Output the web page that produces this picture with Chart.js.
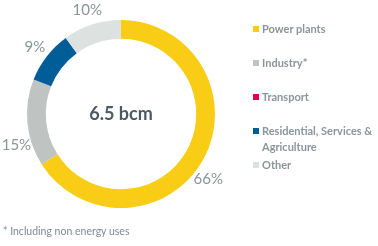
<!DOCTYPE html>
<html>
<head>
<meta charset="utf-8">
<script src="https://cdn.jsdelivr.net/npm/chart.js@4.4.0/dist/chart.umd.min.js"></script>
<style>
  html, body { margin: 0; padding: 0; background: #fff; }
  #wrap { position: relative; width: 378px; height: 246px; font-family: Lato, "Open Sans", sans-serif; }
  #gasChart { position: absolute; left: 0; top: 0; }
  #legend { position: absolute; left: 253px; top: 21px; color: #8a9599; font-size: 11px; font-weight: bold; }
  #legend .item { position: relative; padding-left: 9px; line-height: 16px; margin-bottom: 18px; }
  #legend .item.tight { margin-bottom: 2px; }
  #legend .box { position: absolute; left: 0; top: 5px; width: 6px; height: 6px; }
  #note { position: absolute; left: 3px; top: 225px; color: #7f8a8e; font-size: 10.5px; }
</style>
</head>
<body>
<div id="wrap">
  <canvas id="gasChart" width="378" height="246"></canvas>
  <div id="legend"></div>
  <div id="note">* Including non energy uses</div>
</div>
<script>
const labels = ["Power plants", "Industry*", "Transport", "Residential, Services & Agriculture", "Other"];
const values = [66, 15, 0, 9, 10];
const colors = ["#f9cc15", "#bfc3c1", "#e0004d", "#005d97", "#dde1df"];
const centerText = "6.5 bcm";

// html legend, built from the same arrays
const legendEl = document.getElementById("legend");
labels.forEach(function (lbl, i) {
  const item = document.createElement("div");
  item.className = "item" + (i === 3 ? " tight" : "");
  item.innerHTML = '<span class="box" style="background:' + colors[i] + '"></span>' +
    lbl.replace("& ", "&amp;<br>");
  legendEl.appendChild(item);
});

// percent labels outside the ring + total in the middle
const ringLabels = {
  id: "ringLabels",
  afterDatasetsDraw(chart) {
    const ctx = chart.ctx;
    const meta = chart.getDatasetMeta(0);
    ctx.save();
    ctx.textAlign = "center";
    ctx.textBaseline = "middle";
    ctx.fillStyle = "#8a9599";
    ctx.font = "15px Lato, 'Open Sans', sans-serif";
    meta.data.forEach(function (arc, i) {
      if (!values[i]) return;
      const p = arc.getProps(["x", "y", "startAngle", "endAngle", "outerRadius"], true);
      let mid = (p.startAngle + p.endAngle) / 2;
      // lower-half labels get pulled toward the bottom a little
      if (Math.sin(mid) > 0) mid = Math.PI / 2 + (mid - Math.PI / 2) * 0.87;
      const r = p.outerRadius + 15;
      ctx.fillText(values[i] + "%", p.x + Math.cos(mid) * r, p.y + Math.sin(mid) * r);
    });
    const a = meta.data[0];
    ctx.fillStyle = "#4e5a63";
    ctx.font = "bold 18px Lato, 'Open Sans', sans-serif";
    ctx.fillText(centerText, a.x, a.y);
    ctx.restore();
  },
};

const ctx = document.getElementById("gasChart").getContext("2d");
const myChart = new Chart(ctx, {
  type: "doughnut",
  data: {
    labels: labels,
    datasets: [{ data: values, backgroundColor: colors, borderWidth: 0 }],
  },
  options: {
    responsive: false,
    animation: false,
    cutout: "80%",
    layout: { padding: { left: 27, top: 20, right: 163, bottom: 38 } },
    plugins: { legend: { display: false }, tooltip: { enabled: false } },
  },
  plugins: [ringLabels],
});
</script>
</body>
</html>
